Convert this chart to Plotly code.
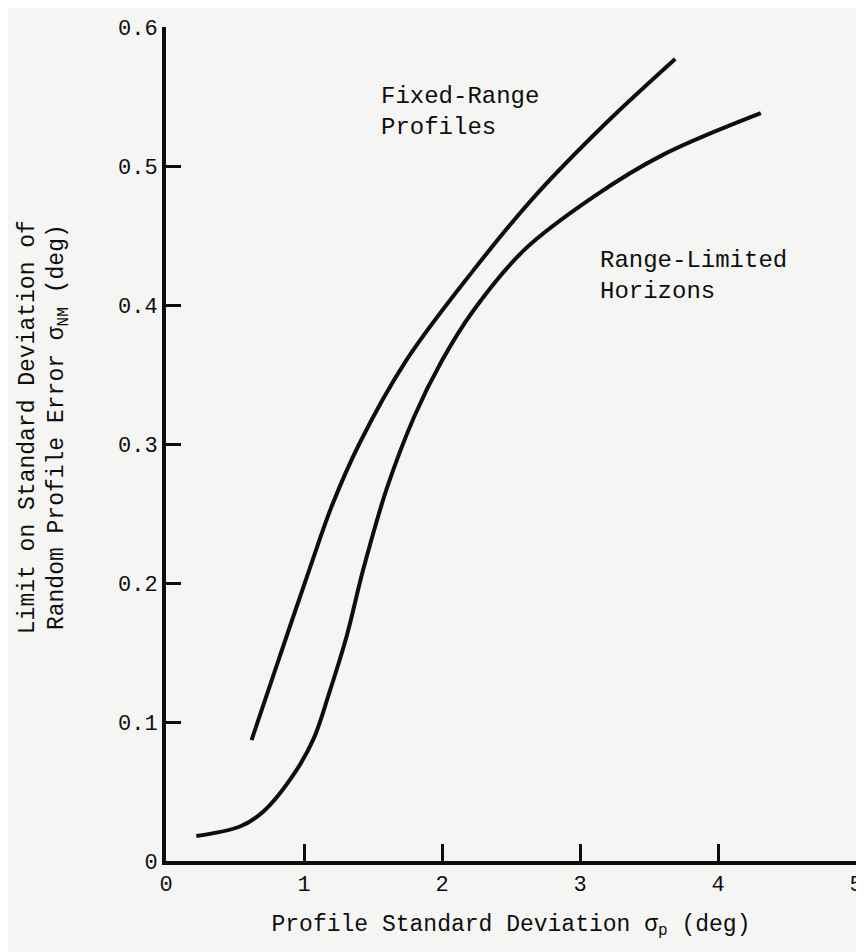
import plotly.graph_objects as go

# Curves
fixed_range_x = [0.62, 0.80, 1.04, 1.20, 1.40, 1.74, 2.22, 2.67, 3.20, 3.69]
fixed_range_y = [0.087, 0.140, 0.210, 0.255, 0.300, 0.360, 0.424, 0.478, 0.532, 0.577]

range_limited_x = [0.22, 0.54, 0.71, 0.93, 1.07, 1.18, 1.31, 1.43, 1.60, 1.80, 2.00, 2.22, 2.60, 3.10, 3.60, 4.31]
range_limited_y = [0.018, 0.025, 0.036, 0.063, 0.088, 0.120, 0.162, 0.210, 0.268, 0.320, 0.360, 0.395, 0.440, 0.478, 0.508, 0.538]

x_ticks = [0, 1, 2, 3, 4, 5]
y_ticks = [0, 0.1, 0.2, 0.3, 0.4, 0.5, 0.6]
y_tick_labels = ["0", "0.1", "0.2", "0.3", "0.4", "0.5", "0.6"]

ink = "#0e0e0e"
paper = "#f5f5f3"
font_family = "Liberation Mono, Courier New, monospace"

fig = go.Figure()

for xs, ys in [(fixed_range_x, fixed_range_y), (range_limited_x, range_limited_y)]:
    fig.add_trace(
        go.Scatter(
            x=xs,
            y=ys,
            mode="lines",
            line=dict(color=ink, width=4, shape="spline", smoothing=1.0),
            showlegend=False,
            hoverinfo="skip",
        )
    )

# Curve labels
fig.add_annotation(
    x=1.54, y=0.539, xref="x", yref="y",
    text="Fixed-Range<br>Profiles",
    showarrow=False, xanchor="left", yanchor="middle", align="left",
    font=dict(size=24, color=ink, family=font_family),
)
fig.add_annotation(
    x=3.13, y=0.421, xref="x", yref="y",
    text="Range-Limited<br>Horizons",
    showarrow=False, xanchor="left", yanchor="middle", align="left",
    font=dict(size=24, color=ink, family=font_family),
)

# y-axis title (two rotated lines)
fig.add_annotation(
    x=-0.177, y=0.52, xref="paper", yref="paper",
    text="Limit on Standard Deviation of<br>Random Profile Error σ<sub>NM</sub> (deg)",
    textangle=-90, showarrow=False, xanchor="center", yanchor="middle",
    font=dict(size=23, color=ink, family=font_family),
)

fig.update_layout(
    width=864,
    height=952,
    margin=dict(l=158, r=9, t=17, b=99),
    paper_bgcolor=paper,
    plot_bgcolor=paper,
    font=dict(family=font_family, size=22, color=ink),
    xaxis=dict(
        range=[0, 5],
        tickvals=x_ticks,
        ticks="inside",
        ticklen=17,
        tickwidth=3,
        tickcolor=ink,
        showline=True,
        linewidth=4,
        linecolor=ink,
        showgrid=False,
        zeroline=False,
        title=dict(
            text="Profile Standard Deviation σ<sub>p</sub> (deg)",
            standoff=18,
            font=dict(size=23, color=ink, family=font_family),
        ),
    ),
    yaxis=dict(
        range=[0, 0.6],
        tickvals=y_ticks,
        ticktext=y_tick_labels,
        ticks="inside",
        ticklen=15,
        tickwidth=3,
        tickcolor=ink,
        showline=True,
        linewidth=4,
        linecolor=ink,
        showgrid=False,
        zeroline=False,
    ),
)

fig.write_html("out.html")
